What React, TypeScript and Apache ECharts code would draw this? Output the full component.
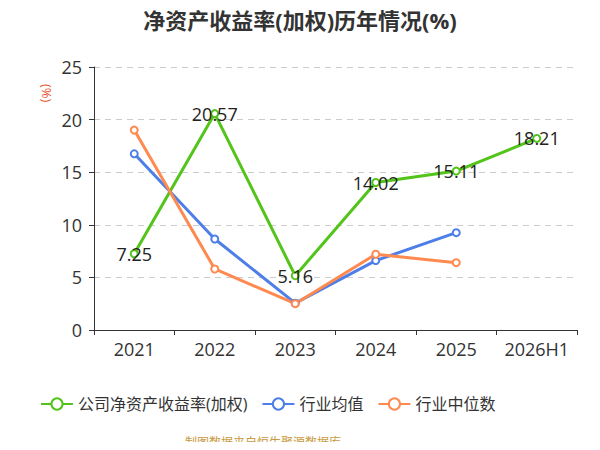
import React, { useEffect, useRef } from "react";
import * as echarts from "echarts";

const categories = ["2021", "2022", "2023", "2024", "2025", "2026H1"];
const companyRoe = [7.25, 20.57, 5.16, 14.02, 15.11, 18.21];
const industryAvg = [16.75, 8.65, 2.55, 6.6, 9.25, null];
const industryMedian = [19.0, 5.8, 2.5, 7.2, 6.4, null];

export default function App() {
  const ref = useRef<HTMLDivElement>(null);
  useEffect(() => {
    if (!ref.current) return;
    const chart = echarts.init(ref.current, null, { renderer: "svg" });
    const font = "'Open Sans', 'Noto Sans CJK SC', sans-serif";
    chart.setOption({
      animation: false,
      textStyle: { fontFamily: font },
      title: {
        text: "净资产收益率(加权)历年情况(%)",
        left: "center",
        top: 4,
        textStyle: { fontSize: 22, fontWeight: "bold", color: "#333", fontFamily: font },
      },
      grid: { left: 94, right: 23, top: 67, bottom: 120 },
      legend: {
        top: 391,
        left: 35,
        itemWidth: 32,
        itemHeight: 14,
        itemGap: 14,
        textStyle: { fontSize: 16, color: "#333", fontFamily: font },
        data: ["公司净资产收益率(加权)", "行业均值", "行业中位数"],
      },
      graphic: [
        {
          type: "text",
          x: 185,
          y: 441,
          style: {
            text: "制图数据来自恒生聚源数据库",
            fill: "#c99a40",
            fontSize: 12,
            fontFamily: "'Noto Sans CJK SC', sans-serif",
            textVerticalAlign: "middle",
            verticalAlign: "middle",
          },
        },
        {
          type: "text",
          x: 54,
          y: 84,
          rotation: -Math.PI / 2,
          style: {
            text: "(%)",
            fill: "#e8542d",
            fontSize: 13,
            fontFamily: font,
          },
        },
      ],
      xAxis: {
        type: "category",
        data: categories,
        boundaryGap: true,
        axisLine: { lineStyle: { color: "#333" } },
        axisTick: { show: true, lineStyle: { color: "#333" } },
        axisLabel: { fontSize: 18, color: "#333", margin: 10, interval: 0 },
      },
      yAxis: {
        type: "value",
        min: 0,
        max: 25,
        interval: 5,
        axisLine: { show: true, lineStyle: { color: "#333" } },
        axisTick: { show: true, lineStyle: { color: "#333" } },
        axisLabel: { fontSize: 18, color: "#333", margin: 12 },
        splitLine: { lineStyle: { type: [6, 5], color: "#ccc" } },
      },
      series: [
        {
          name: "公司净资产收益率(加权)",
          type: "line",
          data: companyRoe,
          symbol: "emptyCircle",
          symbolSize: 7,
          lineStyle: { width: 3, color: "#52c41a" },
          itemStyle: { color: "#52c41a" },
          label: { show: true, position: "inside", fontSize: 18, color: "#222" },
          z: 3,
        },
        {
          name: "行业均值",
          type: "line",
          data: industryAvg,
          symbol: "emptyCircle",
          symbolSize: 7,
          lineStyle: { width: 3, color: "#4e7fe8" },
          itemStyle: { color: "#4e7fe8" },
        },
        {
          name: "行业中位数",
          type: "line",
          data: industryMedian,
          symbol: "emptyCircle",
          symbolSize: 7,
          lineStyle: { width: 3, color: "#ff8a50" },
          itemStyle: { color: "#ff8a50" },
        },
      ],
    });
    return () => chart.dispose();
  }, []);
  return <div ref={ref} style={{ width: 600, height: 450, margin: -8 }} />;
}
